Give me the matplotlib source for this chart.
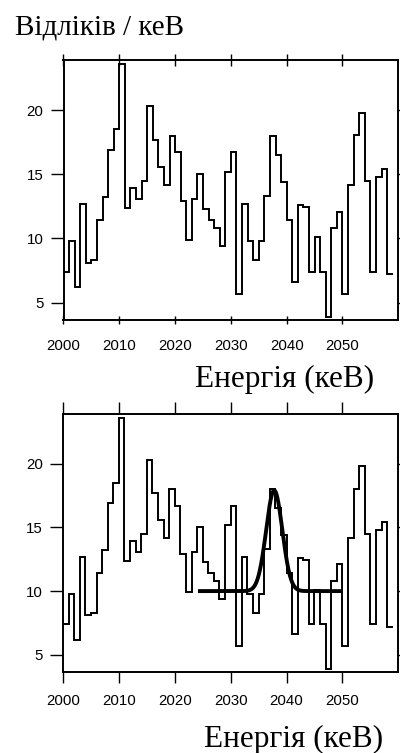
import numpy as np
import matplotlib
matplotlib.use("Agg")
from matplotlib import pyplot as plt

# Spectrum: counts per keV, 1 keV bins starting at 2000 keV
bin_start = 2000
counts = [
    7.4, 9.8, 6.2, 12.7, 8.1, 8.3, 11.4, 13.2, 16.9, 18.5,
    23.6, 12.4, 13.9, 13.1, 14.5, 20.3, 17.7, 15.6, 14.2, 18.0,
    16.7, 12.9, 9.9, 13.05, 15.0, 12.3, 11.4, 10.8, 9.4, 15.15,
    16.7, 5.7, 12.7, 9.8, 8.3, 9.8, 13.3, 18.0, 16.5, 14.4,
    11.4, 6.6, 12.6, 12.45, 7.4, 10.1, 7.4, 3.9, 10.8, 12.1,
    5.7, 14.2, 18.05, 19.8, 14.5, 7.4, 14.8, 15.4, 7.2,
]

# Gaussian fit drawn in the lower panel (parameters)
fit_range = (2024.5, 2049.5)
fit_base = 10.0
fit_amp = 7.9
fit_center = 2037.8
fit_sigma = 1.45

xticks = [2000, 2010, 2020, 2030, 2040, 2050]
yticks = [5, 10, 15, 20]
ylabel = "Відліків / кеВ"
xlabel = "Енергія (кеВ)"

edges = bin_start + np.arange(len(counts) + 1)

fig = plt.figure(figsize=(4.0, 7.53), dpi=100)
W, H = 400, 753


def px_axes(left, top, right, bottom):
    return fig.add_axes([left / W, 1 - bottom / H, (right - left) / W, (bottom - top) / H])


def style(ax, bottom_len, bottom_dir, label_pad):
    ax.stairs(counts, edges, baseline=None, color="black", lw=1.4)
    ax.set_xlim(2000, 2060)
    ax.set_ylim(3.65, 23.9)
    ax.set_xticks(xticks)
    ax.set_yticks(yticks)
    for s in ax.spines.values():
        s.set_linewidth(1.4)
    ax.tick_params(axis="y", which="both", direction="out", length=9.4, width=1.0,
                   pad=5, left=True, right=True, labelright=False)
    ax.tick_params(axis="x", which="both", top=True, labeltop=False, width=1.0)
    ax.xaxis.set_tick_params(which="major", direction=bottom_dir, length=bottom_len,
                             pad=label_pad)
    for t in ax.xaxis.get_major_ticks():
        t.tick2line.set_markersize(8.6)
    for lab in ax.get_xticklabels() + ax.get_yticklabels():
        lab.set_family("Liberation Sans")
        lab.set_fontsize(10.8)


ax1 = px_axes(63.5, 60, 398.3, 320)
style(ax1, 6, "inout", 11)

ax2 = px_axes(63, 414, 398.3, 672)
style(ax2, 8, "out", 8)
xf = np.linspace(fit_range[0], fit_range[1], 400)
yf = fit_base + fit_amp * np.exp(-(xf - fit_center) ** 2 / (2 * fit_sigma ** 2))
ax2.plot(xf, yf, color="black", lw=2.8)

serif = ["Liberation Serif", "DejaVu Serif"]
fig.text(15 / W, 1 - 35 / H, ylabel, family=serif, fontsize=21,
         ha="left", va="baseline")
fig.text(374 / W, 1 - 387 / H, xlabel, family=serif, fontsize=22.5,
         ha="right", va="baseline")
fig.text(383 / W, 1 - 746.5 / H, xlabel, family=serif, fontsize=22.5,
         ha="right", va="baseline")

fig.savefig("out.png", dpi=100)
